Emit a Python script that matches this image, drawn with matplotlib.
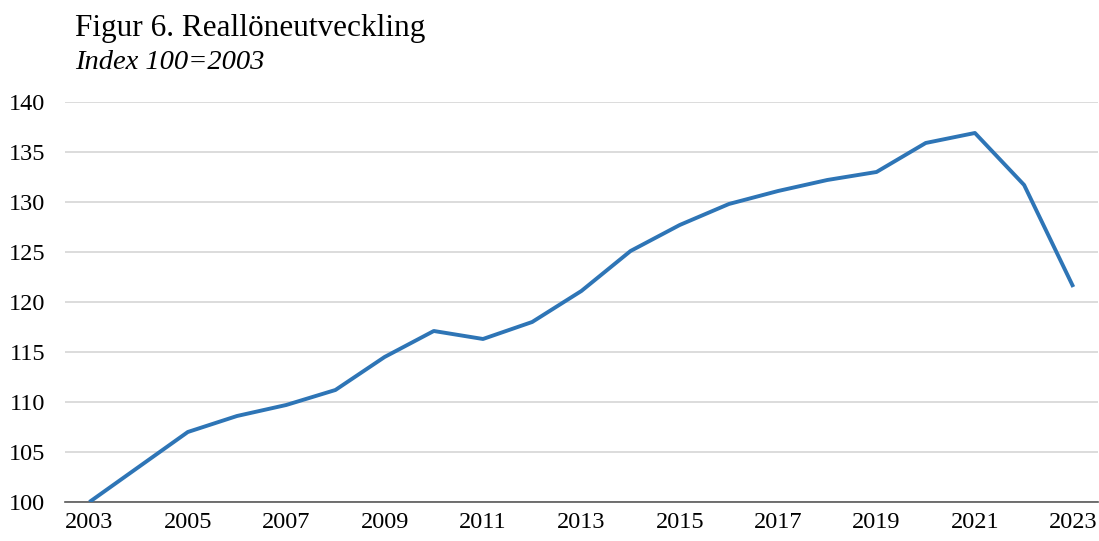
import matplotlib
matplotlib.use("Agg")
from matplotlib import pyplot as plt

# Reallöneutveckling, index 100 = 2003
years = list(range(2003, 2024))
index_values = [100.0, 103.5, 107.0, 108.6, 109.7, 111.2, 114.5, 117.1, 116.3, 118.0,
                121.1, 125.1, 127.7, 129.8, 131.1, 132.2, 133.0, 135.9, 136.9, 131.7, 121.5]
tick_years = list(range(2003, 2024, 2))
y_ticks = list(range(100, 145, 5))

plt.rcParams["font.family"] = ["Liberation Serif", "DejaVu Serif"]

fig = plt.figure(figsize=(10.99, 5.41), dpi=100)
ax = fig.add_axes([0.059, 0.0721, 0.94, 0.7394])

ax.plot(years, index_values, color="#2e75b6", linewidth=2.8, solid_capstyle="butt", zorder=3)

ax.set_xlim(2002.5, 2023.5)
ax.set_ylim(100, 140)
ax.set_xticks(tick_years)
ax.set_yticks(y_ticks)
ax.grid(axis="y", color="#d9d9d9", linewidth=1.3)
ax.set_axisbelow(True)
for side in ["top", "right", "left"]:
    ax.spines[side].set_visible(False)
ax.spines["bottom"].set_color("#595959")
ax.spines["bottom"].set_linewidth(1.2)
ax.spines["bottom"].set_zorder(2)
ax.tick_params(axis="both", length=0, labelsize=17.5, colors="black")
ax.tick_params(axis="x", pad=7)
ax.tick_params(axis="y", pad=14)

fig.text(0.068, 0.948, "Figur 6. Reallöneutveckling", fontsize=22.5, va="center", ha="left")
fig.text(0.068, 0.885, "Index 100=2003", fontsize=20.5, style="italic", va="center", ha="left")

fig.savefig("out.png", dpi=100)
